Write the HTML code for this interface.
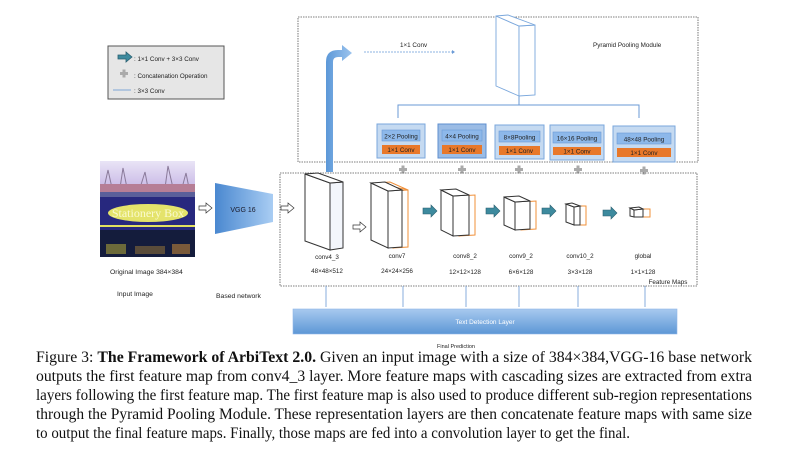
<!DOCTYPE html>
<html><head><meta charset="utf-8"><style>
body{margin:0;width:791px;height:454px;background:#fff;overflow:hidden;position:relative;font-family:"Liberation Sans",sans-serif}
svg{position:absolute;left:0;top:0}
</style></head><body>
<svg width="791" height="454" viewBox="0 0 791 454" font-family="Liberation Sans, sans-serif">
<defs>
<linearGradient id="vg" x1="0" x2="1"><stop offset="0" stop-color="#4a88d0"/><stop offset="1" stop-color="#a9cdf3"/></linearGradient>
<linearGradient id="bar" x1="0" y1="0" x2="0" y2="1"><stop offset="0" stop-color="#a7c9ef"/><stop offset="1" stop-color="#5d97d6"/></linearGradient>
<linearGradient id="up" x1="0" x2="1"><stop offset="0" stop-color="#5c98d8"/><stop offset="1" stop-color="#9cc4ee"/></linearGradient>
<linearGradient id="img" x1="0" y1="0" x2="0" y2="1"><stop offset="0" stop-color="#e9e4f6"/><stop offset="1" stop-color="#c9b9e6"/></linearGradient>
</defs>
<!-- legend -->
<rect x="108" y="46" width="116" height="53" fill="#e6e6e6" stroke="#555" stroke-width="1"/>
<path d="M118 55 h8 v-3 l6 5 -6 5 v-3 h-8z" fill="#3d8a9e" stroke="#2a5f70" stroke-width="0.8"/>
<text x="134" y="61" font-size="6.3" fill="#222">: 1×1 Conv + 3×3 Conv</text>
<path d="M120 72 h2.5 v-2.5 h3 v2.5 h2.5 v3 h-2.5 v2.5 h-3 v-2.5 h-2.5z" fill="#aaa"/>
<text x="134" y="78" font-size="6.3" fill="#222">: Concatenation Operation</text>
<line x1="113" y1="90" x2="131" y2="90" stroke="#5b8fd0" stroke-width="0.8"/>
<text x="134" y="93" font-size="6.3" fill="#222">: 3×3 Conv</text>

<!-- pyramid box -->
<rect x="298" y="17" width="400" height="145" fill="none" stroke="#555" stroke-width="0.8" stroke-dasharray="1.5,1"/>
<text x="400" y="47" font-size="6.3" fill="#222">1×1 Conv</text>
<line x1="364" y1="52" x2="452" y2="52" stroke="#6a9ad6" stroke-width="0.8" stroke-dasharray="2,1"/>
<path d="M452 50 l3 2 -3 2z" fill="#6a9ad6"/>
<text x="593" y="47" font-size="6.3" fill="#222">Pyramid Pooling Module</text>
<g fill="#fff" stroke="#7aa7dc" stroke-width="0.9">
<polygon points="496,16 519,26 519,96 496,86"/>
<polygon points="519,26 535,25 535,95 519,96"/>
<polygon points="496,16 508,15 535,25 519,26"/>
</g>
<line x1="519" y1="96" x2="519" y2="105" stroke="#6a9ad6"/>
<path d="M398 118 V105 H639 V118" fill="none" stroke="#6a9ad6" stroke-width="1"/>
<path d="M326 172 V62 Q326 50 338 50 H342 V45 L352 53 L342 61 V57 H338 Q333 57 333 62 V172z" fill="url(#up)"/>
<g font-size="6.3" text-anchor="middle" fill="#222">
<rect x="377" y="124" width="48" height="34" fill="#c5daf1" stroke="#7aa7dc"/>
<rect x="382" y="130" width="38" height="11" fill="#8db8ea" stroke="#6a9ad6" stroke-width="0.6"/><text x="401" y="138.5">2×2 Pooling</text>
<rect x="382" y="145" width="38" height="9" fill="#e8782a"/><text x="401" y="152">1×1 Conv</text>
<rect x="438" y="124" width="48" height="34" fill="#9bbce5" stroke="#5f8fcf"/>
<rect x="442" y="130" width="40" height="11" fill="#8db8ea" stroke="#6a9ad6" stroke-width="0.6"/><text x="462" y="138.5">4×4  Pooling</text>
<rect x="442" y="145" width="40" height="9" fill="#e8782a"/><text x="462" y="152">1×1 Conv</text>
<rect x="495" y="125" width="49" height="34" fill="#c5daf1" stroke="#7aa7dc"/>
<rect x="499" y="131" width="41" height="11" fill="#8db8ea" stroke="#6a9ad6" stroke-width="0.6"/><text x="519.5" y="139.5">8×8Pooling</text>
<rect x="499" y="146" width="41" height="9" fill="#e8782a"/><text x="519.5" y="153">1×1 Conv</text>
<rect x="550" y="125" width="54" height="35" fill="#c5daf1" stroke="#7aa7dc"/>
<rect x="553" y="132" width="48" height="11" fill="#8db8ea" stroke="#6a9ad6" stroke-width="0.6"/><text x="577" y="140.5">16×16 Pooling</text>
<rect x="553" y="147" width="48" height="8" fill="#e8782a"/><text x="577" y="153.5">1×1 Conv</text>
<rect x="613" y="126" width="62" height="36" fill="#c5daf1" stroke="#7aa7dc"/>
<rect x="617" y="133" width="54" height="11" fill="#8db8ea" stroke="#6a9ad6" stroke-width="0.6"/><text x="644" y="141.5">48×48 Pooling</text>
<rect x="617" y="148" width="54" height="9" fill="#e8782a"/><text x="644" y="155">1×1 Conv</text>
</g>
<g fill="#aaa">
<path d="M399 168 h2.5 v-2.5 h3 v2.5 h2.5 v3 h-2.5 v2.5 h-3 v-2.5 h-2.5z"/>
<path d="M458 168 h2.5 v-2.5 h3 v2.5 h2.5 v3 h-2.5 v2.5 h-3 v-2.5 h-2.5z"/>
<path d="M515 168 h2.5 v-2.5 h3 v2.5 h2.5 v3 h-2.5 v2.5 h-3 v-2.5 h-2.5z"/>
<path d="M574 168 h2.5 v-2.5 h3 v2.5 h2.5 v3 h-2.5 v2.5 h-3 v-2.5 h-2.5z"/>
<path d="M640 169 h2.5 v-2.5 h3 v2.5 h2.5 v3 h-2.5 v2.5 h-3 v-2.5 h-2.5z"/>
</g>
<rect x="280" y="173" width="417" height="113" fill="none" stroke="#555" stroke-width="0.8" stroke-dasharray="1.5,1"/>
<!-- image -->
<rect x="100" y="161" width="95" height="27" fill="url(#img)"/>
<path d="M104 188 l4-18 4 18 M120 188 l3-20 4 20 M140 188 l5-16 3 16 M165 188 l3-22 5 22 M182 188 l4-15 3 15" stroke="#8a7a9a" stroke-width="1" fill="none"/>
<rect x="100" y="184" width="95" height="13" fill="#b67e96"/>
<rect x="100" y="192" width="95" height="5" fill="#5a5f9a"/>
<rect x="100" y="197" width="95" height="33" fill="#27287e"/>
<ellipse cx="148" cy="213" rx="40" ry="9" fill="#e4e36b"/>
<text x="148" y="217" font-size="12" text-anchor="middle" fill="#fafad0" font-family="Liberation Serif, serif">Stationery Box</text>
<rect x="100" y="225" width="95" height="2" fill="#e3e060"/>
<rect x="100" y="230" width="95" height="27" fill="#141c3c"/>
<rect x="106" y="244" width="20" height="10" fill="#6c6a3a"/><rect x="135" y="246" width="30" height="8" fill="#5a4c3a"/><rect x="172" y="244" width="18" height="10" fill="#7a5a3a"/>
<text x="110" y="274" font-size="6.8" fill="#222">Original Image 384×384</text>
<text x="117" y="296" font-size="6.8" fill="#222">Input Image</text>
<text x="216" y="298" font-size="6.8" fill="#222">Based network</text>
<path d="M199 206 h7 v-3 l6 5 -6 5 v-3 h-7z" fill="#fff" stroke="#333" stroke-width="0.7"/>
<path d="M281 206 h7 v-3 l6 5 -6 5 v-3 h-7z" fill="#fff" stroke="#333" stroke-width="0.7"/>
<path d="M353 225 h7 v-3 l6 5 -6 5 v-3 h-7z" fill="#fff" stroke="#333" stroke-width="0.7"/>
<polygon points="215,183 273,194 273,222 215,234" fill="url(#vg)"/>
<text x="243" y="212" font-size="7" text-anchor="middle" fill="#1a1a2a">VGG 16</text>
<g stroke-width="1">
<g fill="#fff" stroke="#333">
<polygon points="305,174 330,183 330,250 305,241"/>
<polygon points="330,183 343,182 343,248 330,250" fill="#f3f6fc"/>
<polygon points="305,174 318,173 343,182 330,183"/>
</g>
<g fill="none" stroke="#f0903a"><polygon points="376,183 393,191 393,248 376,240"/><polygon points="393,191 408,190 408,247 393,248"/><polygon points="376,183 390,182 408,190"/></g>
<g fill="#fff" stroke="#333"><polygon points="371,183 388,191 388,248 371,240"/><polygon points="388,191 402,190 402,247 388,248"/><polygon points="371,183 385,182 402,190 388,191"/></g>
<g fill="none" stroke="#f0903a"><polygon points="447,190 459,196 459,236 447,230"/><polygon points="459,196 475,195 475,235 459,236"/></g>
<g fill="#fff" stroke="#333"><polygon points="441,190 453,196 453,236 441,230"/><polygon points="453,196 469,195 469,235 453,236"/><polygon points="441,190 456,189 469,195 453,196"/></g>
<g fill="none" stroke="#f0903a"><polygon points="521,202 536,201 536,229 521,230"/></g>
<g fill="#fff" stroke="#333"><polygon points="504,197 515,202 515,230 504,225"/><polygon points="515,202 530,201 530,229 515,230"/><polygon points="504,197 519,196 530,201 515,202"/></g>
<g fill="none" stroke="#f0903a"><polygon points="579,206 586,206 586,225 579,225"/></g>
<g fill="#fff" stroke="#333"><polygon points="566,204 574,207 574,225 566,222"/><polygon points="574,207 580,206 580,225 574,225"/><polygon points="566,204 572,203 580,206 574,207"/></g>
<g fill="none" stroke="#f0903a"><rect x="643" y="209" width="7" height="8"/></g>
<g fill="#fff" stroke="#333"><polygon points="630,208 634,210 634,217 630,216"/><polygon points="634,210 643,209 643,217 634,217"/><polygon points="630,208 639,207 643,209 634,210"/></g>
</g>
<g fill="#3d8a9e" stroke="#2a5f70" stroke-width="0.6">
<path d="M423 208 h8 v-3 l6 6 -6 6 v-3 h-8z"/>
<path d="M486 208 h8 v-3 l6 6 -6 6 v-3 h-8z"/>
<path d="M542 208 h8 v-3 l6 6 -6 6 v-3 h-8z"/>
<path d="M603 210 h8 v-3 l6 6 -6 6 v-3 h-8z"/>
</g>
<g font-size="6.3" text-anchor="middle" fill="#222">
<text x="327" y="259">conv4_3</text><text x="327" y="273">48×48×512</text>
<text x="397" y="258">conv7</text><text x="397" y="273">24×24×256</text>
<text x="465" y="258">conv8_2</text><text x="465" y="274">12×12×128</text>
<text x="521" y="258">conv9_2</text><text x="521" y="274">6×6×128</text>
<text x="580" y="258">conv10_2</text><text x="580" y="274">3×3×128</text>
<text x="643" y="258">global</text><text x="643" y="274">1×1×128</text>
<text x="668" y="284">Feature Maps</text>
</g>
<g stroke="#6a9ad6" stroke-width="0.8">
<line x1="326" y1="286" x2="326" y2="307"/><line x1="403" y1="286" x2="403" y2="307"/><line x1="466" y1="286" x2="466" y2="307"/><line x1="519" y1="286" x2="519" y2="307"/><line x1="578" y1="286" x2="578" y2="307"/><line x1="645" y1="286" x2="645" y2="307"/>
</g>
<rect x="293" y="309" width="384" height="25" fill="url(#bar)" stroke="#8fb6e6" stroke-width="0.6"/>
<text x="485" y="324" font-size="6.5" text-anchor="middle" fill="#fff">Text Detection Layer</text>
<text x="456" y="348" font-size="5.5" text-anchor="middle" fill="#222">Final Prediction</text>
<!-- caption -->
<g font-family="Liberation Serif, serif" font-size="16" fill="#111">
<text x="36" y="362" textLength="716" lengthAdjust="spacingAndGlyphs">Figure 3: <tspan font-weight="bold">The Framework of ArbiText 2.0.</tspan> Given an input image with a size of 384×384,VGG-16 base network</text>
<text x="36" y="381" textLength="716" lengthAdjust="spacingAndGlyphs">outputs the first feature map from conv4_3 layer. More feature maps with cascading sizes are extracted from extra</text>
<text x="36" y="400" textLength="716" lengthAdjust="spacingAndGlyphs">layers following the first feature map. The first feature map is also used to produce different sub-region representations</text>
<text x="36" y="419" textLength="716" lengthAdjust="spacingAndGlyphs">through the Pyramid Pooling Module. These representation layers are then concatenate feature maps with same size</text>
<text x="36" y="438" textLength="594" lengthAdjust="spacingAndGlyphs">to output the final feature maps. Finally, those maps are fed into a convolution layer to get the final.</text>
</g>
</svg>
</body></html>
